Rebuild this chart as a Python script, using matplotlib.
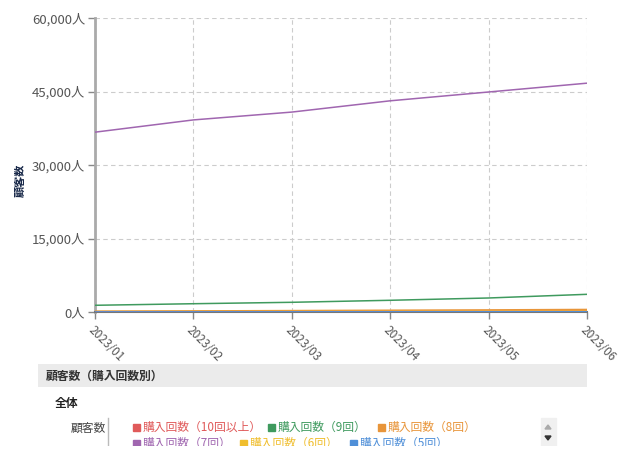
import matplotlib
matplotlib.use("Agg")
import matplotlib.pyplot as plt
from matplotlib.patches import Rectangle, Polygon

plt.rcParams['font.family'] = ['Noto Sans CJK JP', 'DejaVu Sans']

# ---- data ----
periods = ["2023/01", "2023/02", "2023/03", "2023/04", "2023/05", "2023/06"]
series_names = ["購入回数（10回以上）", "購入回数（9回）", "購入回数（8回）",
                "購入回数（7回）", "購入回数（6回）", "購入回数（5回）"]
series_colors = ["#e05a5a", "#3f9a5e", "#e8953a", "#a066b0", "#f0be2e", "#4f8fd8"]
v10 = [60, 70, 80, 90, 100, 110]
v9 = [1370, 1690, 1980, 2390, 2860, 3610]
v8 = [150, 220, 290, 360, 430, 520]
v7 = [36700, 39200, 40800, 43100, 44900, 46700]
v6 = [100, 130, 160, 190, 220, 260]
v5 = [20, 25, 30, 35, 40, 45]
values = [v10, v9, v8, v7, v6, v5]
yticks = [0, 15000, 30000, 45000, 60000]
ytick_labels = ["0人", "15,000人", "30,000人", "45,000人", "60,000人"]
ylabel = "顧客数"
panel_title = "顧客数（購入回数別）"
group_label = "全体"
row_label = "顧客数"

W, H = 634, 471
fig = plt.figure(figsize=(W / 100, H / 100), dpi=100)

def fx(px):
    return px / W

def fy(py):
    return 1 - py / H

ax = fig.add_axes([fx(95), fy(312), fx(587) - fx(95), fy(18) - fy(312)])
x = list(range(len(periods)))
draw_order = [3, 1, 2, 4, 0, 5]
for i in draw_order:
    ax.plot(x, values[i], color=series_colors[i], lw=1.1, zorder=3)

ax.set_xlim(0, len(periods) - 1)
ax.set_ylim(0, 60000)
ax.set_yticks(yticks)
ax.set_yticklabels(ytick_labels, fontsize=9.5, color="#555555")
ax.set_xticks(x)
ax.set_xticklabels(periods, rotation=-45, ha="left", va="top",
                   rotation_mode="anchor", fontsize=8.5, color="#555555")
ax.grid(True, color="#cccccc", ls=(0, (4, 3)), lw=0.8)
for s in ["top", "right"]:
    ax.spines[s].set_visible(False)
ax.spines["left"].set_color("#aaaaaa")
ax.spines["left"].set_linewidth(2)
ax.spines["bottom"].set_color("#777777")
ax.spines["bottom"].set_linewidth(1.5)
ax.tick_params(axis="both", colors="#888888", length=5, width=1,
               labelcolor="#555555")
ax.tick_params(axis="y", pad=2)
fig.text(fx(20), fy(180), ylabel, rotation=90, fontsize=8, fontweight="bold",
         color="#1a2a4a", ha="center", va="center")

# ---- bottom panel ----
fig.add_artist(Rectangle((fx(38), fy(387)), fx(587) - fx(38), fy(364) - fy(387),
                         transform=fig.transFigure, color="#ebebeb", lw=0))
fig.text(fx(46), fy(376), panel_title, fontsize=8.5, fontweight="bold",
         color="#333333", va="center", ha="left")
fig.text(fx(55), fy(403), group_label, fontsize=8.5, fontweight="bold",
         color="#222222", va="center", ha="left")
fig.text(fx(71), fy(428), row_label, fontsize=8.5, color="#444444",
         va="center", ha="left")

lax = fig.add_axes([0, fy(446), 1, fy(416) - fy(446)])
lax.set_xlim(0, W)
lax.set_ylim(446, 416)
lax.axis("off")
lax.plot([108, 108], [418, 446], color="#bbbbbb", lw=1, clip_on=True)
xs = [133, 268, 378, 133, 240, 350]
ys = [427, 427, 427, 443, 443, 443]
for i in range(6):
    lax.add_patch(Rectangle((xs[i], ys[i] - 3.5), 7, 7, color=series_colors[i],
                            clip_on=True))
    t = lax.text(xs[i] + 10, ys[i], series_names[i], fontsize=8.5,
                 color=series_colors[i], va="center", ha="left")
    t.set_clip_on(True)
    t.set_clip_box(lax.bbox)

# scroll widget
lax.add_patch(Rectangle((541, 418), 15, 28, color="#f0f0f0", clip_on=True))
lax.add_patch(Polygon([[545, 429], [551, 429], [548, 425]], closed=True,
                      color="#aaaaaa"))
lax.add_patch(Polygon([[545, 436], [551, 436], [548, 440]], closed=True,
                      color="#333333"))

fig.savefig("out.png", dpi=100)
